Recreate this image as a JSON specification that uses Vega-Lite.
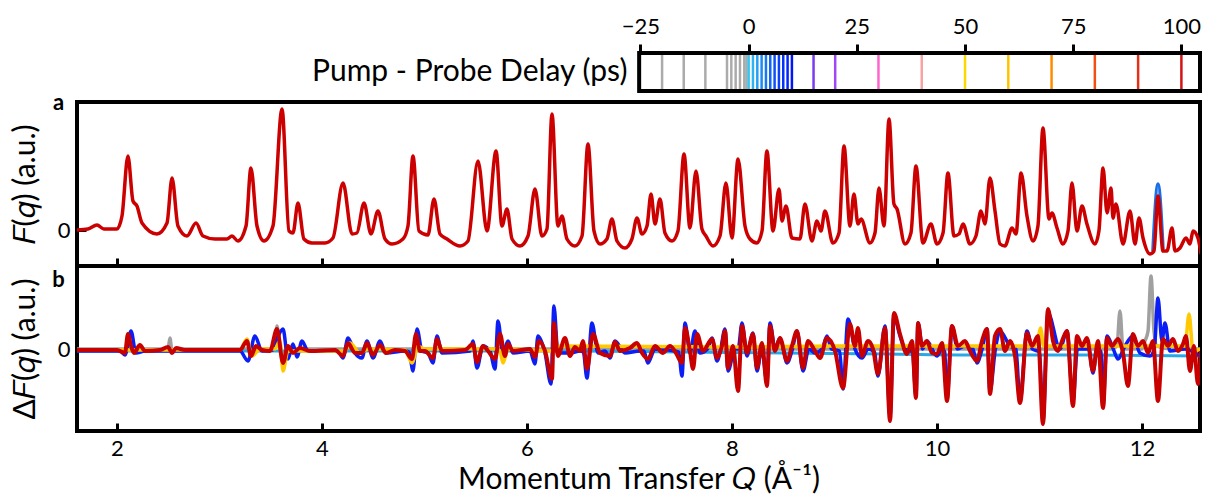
{
  "$schema": "https://vega.github.io/schema/vega-lite/v6.json",
  "padding": {"left": 8, "top": 15, "right": 0, "bottom": 0},
  "background": "white",
  "config": {
    "font": "Lato",
    "view": {"stroke": "black", "strokeWidth": 4},
    "axis": {"grid": false, "domain": false, "tickColor": "black", "tickWidth": 3, "labelColor": "black", "titleColor": "black", "labelFont": "Lato", "titleFont": "Lato", "titleFontWeight": "normal", "labelFontSize": 22, "titleFontSize": 30}
  },
  "datasets": {
    "delays": [{"delay":-20},{"delay":-15},{"delay":-10},{"delay":-5},{"delay":-4},{"delay":-3},{"delay":-2},{"delay":-1},{"delay":-0.5},{"delay":0},{"delay":1},{"delay":2},{"delay":3},{"delay":4},{"delay":5},{"delay":6},{"delay":7},{"delay":8},{"delay":9},{"delay":10},{"delay":15},{"delay":20},{"delay":30},{"delay":40},{"delay":50},{"delay":60},{"delay":70},{"delay":80},{"delay":90},{"delay":100}],
    "Fred": [{"Q":1.610,"F":0},{"Q":1.717,"F":1},{"Q":1.805,"F":5},{"Q":1.873,"F":1},{"Q":2.000,"F":1},{"Q":2.049,"F":14},{"Q":2.107,"F":74},{"Q":2.156,"F":29},{"Q":2.195,"F":24},{"Q":2.244,"F":7},{"Q":2.390,"F":-4},{"Q":2.488,"F":7},{"Q":2.537,"F":52},{"Q":2.595,"F":4},{"Q":2.683,"F":-6},{"Q":2.771,"F":7},{"Q":2.839,"F":-6},{"Q":2.956,"F":-9},{"Q":3.073,"F":-9},{"Q":3.122,"F":-6},{"Q":3.180,"F":-11},{"Q":3.259,"F":4},{"Q":3.307,"F":62},{"Q":3.366,"F":4},{"Q":3.434,"F":-11},{"Q":3.522,"F":4},{"Q":3.610,"F":121},{"Q":3.678,"F":-1},{"Q":3.717,"F":-3},{"Q":3.766,"F":27},{"Q":3.824,"F":-9},{"Q":3.902,"F":-13},{"Q":4.029,"F":-13},{"Q":4.107,"F":-8},{"Q":4.205,"F":47},{"Q":4.293,"F":-4},{"Q":4.341,"F":-3},{"Q":4.410,"F":27},{"Q":4.478,"F":-4},{"Q":4.546,"F":19},{"Q":4.615,"F":-9},{"Q":4.683,"F":-14},{"Q":4.790,"F":-9},{"Q":4.839,"F":4},{"Q":4.888,"F":74},{"Q":4.946,"F":-1},{"Q":5.034,"F":-5},{"Q":5.093,"F":31},{"Q":5.151,"F":-4},{"Q":5.220,"F":-9},{"Q":5.346,"F":-16},{"Q":5.424,"F":-11},{"Q":5.522,"F":69},{"Q":5.610,"F":-1},{"Q":5.698,"F":79},{"Q":5.756,"F":4},{"Q":5.805,"F":21},{"Q":5.854,"F":-9},{"Q":5.932,"F":-16},{"Q":6.010,"F":-6},{"Q":6.078,"F":41},{"Q":6.146,"F":-6},{"Q":6.195,"F":1},{"Q":6.244,"F":116},{"Q":6.302,"F":4},{"Q":6.341,"F":14},{"Q":6.390,"F":-9},{"Q":6.468,"F":-16},{"Q":6.537,"F":-6},{"Q":6.595,"F":86},{"Q":6.654,"F":-1},{"Q":6.712,"F":-14},{"Q":6.780,"F":-9},{"Q":6.829,"F":11},{"Q":6.878,"F":-11},{"Q":6.956,"F":-18},{"Q":7.024,"F":-9},{"Q":7.073,"F":12},{"Q":7.122,"F":-4},{"Q":7.171,"F":4},{"Q":7.210,"F":36},{"Q":7.249,"F":6},{"Q":7.298,"F":31},{"Q":7.346,"F":-3},{"Q":7.415,"F":-11},{"Q":7.473,"F":-1},{"Q":7.532,"F":76},{"Q":7.590,"F":2},{"Q":7.649,"F":59},{"Q":7.707,"F":1},{"Q":7.746,"F":-6},{"Q":7.815,"F":-16},{"Q":7.883,"F":-6},{"Q":7.941,"F":47},{"Q":8.000,"F":-8},{"Q":8.059,"F":71},{"Q":8.127,"F":4},{"Q":8.176,"F":-9},{"Q":8.244,"F":-13},{"Q":8.293,"F":-1},{"Q":8.341,"F":79},{"Q":8.400,"F":-1},{"Q":8.459,"F":41},{"Q":8.488,"F":9},{"Q":8.527,"F":24},{"Q":8.585,"F":-8},{"Q":8.663,"F":-9},{"Q":8.712,"F":26},{"Q":8.780,"F":-11},{"Q":8.829,"F":9},{"Q":8.868,"F":-1},{"Q":8.907,"F":19},{"Q":8.985,"F":-13},{"Q":9.044,"F":-3},{"Q":9.093,"F":84},{"Q":9.151,"F":4},{"Q":9.190,"F":36},{"Q":9.229,"F":6},{"Q":9.259,"F":11},{"Q":9.346,"F":-13},{"Q":9.395,"F":-3},{"Q":9.434,"F":42},{"Q":9.483,"F":4},{"Q":9.532,"F":111},{"Q":9.580,"F":26},{"Q":9.610,"F":21},{"Q":9.688,"F":-14},{"Q":9.746,"F":-3},{"Q":9.795,"F":64},{"Q":9.863,"F":-13},{"Q":9.941,"F":6},{"Q":10.000,"F":-14},{"Q":10.059,"F":-3},{"Q":10.107,"F":57},{"Q":10.166,"F":-6},{"Q":10.215,"F":-4},{"Q":10.254,"F":6},{"Q":10.322,"F":-14},{"Q":10.380,"F":-6},{"Q":10.429,"F":19},{"Q":10.468,"F":6},{"Q":10.517,"F":52},{"Q":10.566,"F":19},{"Q":10.615,"F":-14},{"Q":10.663,"F":-16},{"Q":10.732,"F":2},{"Q":10.771,"F":-4},{"Q":10.820,"F":57},{"Q":10.878,"F":14},{"Q":10.937,"F":-11},{"Q":10.985,"F":4},{"Q":11.034,"F":102},{"Q":11.093,"F":11},{"Q":11.122,"F":17},{"Q":11.171,"F":2},{"Q":11.229,"F":-14},{"Q":11.278,"F":-1},{"Q":11.317,"F":47},{"Q":11.366,"F":-1},{"Q":11.415,"F":24},{"Q":11.463,"F":6},{"Q":11.541,"F":-14},{"Q":11.580,"F":-1},{"Q":11.620,"F":62},{"Q":11.659,"F":17},{"Q":11.698,"F":42},{"Q":11.717,"F":12},{"Q":11.746,"F":26},{"Q":11.815,"F":-14},{"Q":11.883,"F":19},{"Q":11.932,"F":-14},{"Q":11.971,"F":12},{"Q":12.010,"F":-8},{"Q":12.078,"F":-24},{"Q":12.117,"F":-21},{"Q":12.156,"F":34},{"Q":12.205,"F":-21},{"Q":12.244,"F":-21},{"Q":12.293,"F":2},{"Q":12.322,"F":-21},{"Q":12.371,"F":-18},{"Q":12.429,"F":-8},{"Q":12.468,"F":-14},{"Q":12.498,"F":-1},{"Q":12.546,"F":-8},{"Q":12.576,"F":-24}],
    "Fblue": [{"Q":12.107,"F":-21},{"Q":12.156,"F":46},{"Q":12.205,"F":-19}],
    "dRed": [{"Q":1.61,"d":-1},{"Q":2.0,"d":-1},{"Q":2.029,"d":-2},{"Q":2.078,"d":-4},{"Q":2.107,"d":15},{"Q":2.137,"d":3},{"Q":2.166,"d":-4},{"Q":2.224,"d":4},{"Q":2.273,"d":-2},{"Q":2.42,"d":-1},{"Q":2.498,"d":2},{"Q":2.537,"d":-4},{"Q":2.576,"d":1},{"Q":2.663,"d":-1},{"Q":3.2,"d":-1},{"Q":3.268,"d":8},{"Q":3.307,"d":-7},{"Q":3.356,"d":3},{"Q":3.415,"d":-1},{"Q":3.493,"d":-2},{"Q":3.561,"d":20},{"Q":3.62,"d":-14},{"Q":3.668,"d":3},{"Q":3.717,"d":-4},{"Q":3.785,"d":1},{"Q":3.883,"d":-2},{"Q":4.127,"d":-1},{"Q":4.205,"d":-7},{"Q":4.254,"d":6},{"Q":4.322,"d":-4},{"Q":4.39,"d":-4},{"Q":4.439,"d":6},{"Q":4.498,"d":-6},{"Q":4.566,"d":4},{"Q":4.624,"d":-4},{"Q":4.712,"d":-1},{"Q":4.81,"d":-2},{"Q":4.878,"d":-10},{"Q":4.917,"d":15},{"Q":4.956,"d":-2},{"Q":5.005,"d":-2},{"Q":5.083,"d":-9},{"Q":5.122,"d":10},{"Q":5.171,"d":-2},{"Q":5.395,"d":-1},{"Q":5.473,"d":5},{"Q":5.512,"d":-13},{"Q":5.571,"d":3},{"Q":5.62,"d":-2},{"Q":5.688,"d":-10},{"Q":5.737,"d":15},{"Q":5.785,"d":-7},{"Q":5.815,"d":5},{"Q":5.863,"d":-2},{"Q":6.029,"d":0},{"Q":6.078,"d":-8},{"Q":6.117,"d":8},{"Q":6.176,"d":-2},{"Q":6.244,"d":-30},{"Q":6.263,"d":26},{"Q":6.302,"d":-7},{"Q":6.371,"d":11},{"Q":6.42,"d":-7},{"Q":6.468,"d":2},{"Q":6.517,"d":-2},{"Q":6.546,"d":8},{"Q":6.585,"d":-20},{"Q":6.644,"d":15},{"Q":6.712,"d":-4},{"Q":6.81,"d":-7},{"Q":6.859,"d":7},{"Q":6.907,"d":-2},{"Q":7.005,"d":1},{"Q":7.073,"d":6},{"Q":7.122,"d":-4},{"Q":7.18,"d":-10},{"Q":7.249,"d":3},{"Q":7.327,"d":-4},{"Q":7.395,"d":3},{"Q":7.454,"d":-4},{"Q":7.512,"d":-14},{"Q":7.542,"d":21},{"Q":7.59,"d":-2},{"Q":7.62,"d":-20},{"Q":7.659,"d":15},{"Q":7.717,"d":-2},{"Q":7.805,"d":10},{"Q":7.854,"d":-9},{"Q":7.902,"d":3},{"Q":7.932,"d":18},{"Q":7.961,"d":-19},{"Q":8.01,"d":3},{"Q":8.059,"d":-42},{"Q":8.098,"d":23},{"Q":8.146,"d":-4},{"Q":8.205,"d":15},{"Q":8.244,"d":-19},{"Q":8.293,"d":6},{"Q":8.341,"d":-37},{"Q":8.371,"d":23},{"Q":8.42,"d":-2},{"Q":8.468,"d":11},{"Q":8.537,"d":-12},{"Q":8.585,"d":3},{"Q":8.634,"d":18},{"Q":8.693,"d":-19},{"Q":8.742,"d":8},{"Q":8.81,"d":-2},{"Q":8.859,"d":-9},{"Q":8.927,"d":11},{"Q":9.005,"d":-2},{"Q":9.083,"d":-39},{"Q":9.151,"d":25},{"Q":9.2,"d":3},{"Q":9.229,"d":21},{"Q":9.268,"d":-7},{"Q":9.327,"d":8},{"Q":9.376,"d":0},{"Q":9.424,"d":-25},{"Q":9.493,"d":21},{"Q":9.542,"d":-72},{"Q":9.58,"d":36},{"Q":9.639,"d":15},{"Q":9.707,"d":-5},{"Q":9.756,"d":8},{"Q":9.795,"d":-49},{"Q":9.815,"d":26},{"Q":9.854,"d":3},{"Q":9.902,"d":8},{"Q":9.951,"d":-4},{"Q":10.0,"d":-5},{"Q":10.049,"d":6},{"Q":10.098,"d":-52},{"Q":10.146,"d":23},{"Q":10.205,"d":3},{"Q":10.273,"d":8},{"Q":10.322,"d":-2},{"Q":10.39,"d":-12},{"Q":10.439,"d":8},{"Q":10.488,"d":20},{"Q":10.517,"d":-45},{"Q":10.566,"d":13},{"Q":10.615,"d":20},{"Q":10.663,"d":-2},{"Q":10.712,"d":8},{"Q":10.761,"d":-7},{"Q":10.81,"d":-54},{"Q":10.878,"d":16},{"Q":10.927,"d":3},{"Q":10.985,"d":13},{"Q":11.034,"d":-75},{"Q":11.083,"d":40},{"Q":11.132,"d":8},{"Q":11.18,"d":-2},{"Q":11.22,"d":8},{"Q":11.268,"d":18},{"Q":11.327,"d":-57},{"Q":11.366,"d":13},{"Q":11.415,"d":3},{"Q":11.463,"d":11},{"Q":11.522,"d":-22},{"Q":11.571,"d":8},{"Q":11.62,"d":-59},{"Q":11.659,"d":11},{"Q":11.707,"d":3},{"Q":11.766,"d":10},{"Q":11.815,"d":-4},{"Q":11.863,"d":-37},{"Q":11.912,"d":15},{"Q":11.961,"d":3},{"Q":12.01,"d":8},{"Q":12.059,"d":-4},{"Q":12.107,"d":8},{"Q":12.156,"d":-52},{"Q":12.205,"d":10},{"Q":12.254,"d":3},{"Q":12.302,"d":10},{"Q":12.351,"d":-2},{"Q":12.4,"d":5},{"Q":12.429,"d":13},{"Q":12.468,"d":-22},{"Q":12.507,"d":3},{"Q":12.546,"d":-35},{"Q":12.576,"d":-2}],
    "dBlue": [{"Q":1.61,"d":-2},{"Q":2.029,"d":-2},{"Q":2.078,"d":-6},{"Q":2.137,"d":18},{"Q":2.185,"d":-4},{"Q":2.273,"d":-2},{"Q":3.2,"d":-2},{"Q":3.278,"d":-12},{"Q":3.346,"d":13},{"Q":3.415,"d":-2},{"Q":3.52,"d":-1},{"Q":3.561,"d":10},{"Q":3.62,"d":20},{"Q":3.668,"d":-10},{"Q":3.717,"d":5},{"Q":3.756,"d":-8},{"Q":3.805,"d":8},{"Q":3.863,"d":-2},{"Q":4.156,"d":-2},{"Q":4.205,"d":-9},{"Q":4.254,"d":11},{"Q":4.322,"d":-4},{"Q":4.39,"d":-9},{"Q":4.439,"d":8},{"Q":4.498,"d":-9},{"Q":4.566,"d":8},{"Q":4.624,"d":-4},{"Q":4.81,"d":-2},{"Q":4.85,"d":-3},{"Q":4.888,"d":-22},{"Q":4.927,"d":20},{"Q":4.976,"d":-2},{"Q":5.034,"d":-4},{"Q":5.083,"d":-14},{"Q":5.122,"d":13},{"Q":5.171,"d":-4},{"Q":5.444,"d":-2},{"Q":5.473,"d":8},{"Q":5.512,"d":-19},{"Q":5.571,"d":3},{"Q":5.639,"d":-2},{"Q":5.688,"d":-20},{"Q":5.717,"d":28},{"Q":5.766,"d":-4},{"Q":5.815,"d":8},{"Q":5.863,"d":-4},{"Q":6.029,"d":-2},{"Q":6.078,"d":-15},{"Q":6.107,"d":13},{"Q":6.176,"d":-4},{"Q":6.234,"d":-35},{"Q":6.263,"d":43},{"Q":6.302,"d":-4},{"Q":6.42,"d":-4},{"Q":6.517,"d":-2},{"Q":6.55,"d":-3},{"Q":6.585,"d":-29},{"Q":6.634,"d":26},{"Q":6.693,"d":-4},{"Q":6.76,"d":-2},{"Q":6.81,"d":-9},{"Q":6.859,"d":8},{"Q":6.956,"d":-4},{"Q":7.102,"d":-2},{"Q":7.14,"d":-2},{"Q":7.18,"d":-14},{"Q":7.249,"d":0},{"Q":7.444,"d":-2},{"Q":7.48,"d":-3},{"Q":7.512,"d":-27},{"Q":7.542,"d":26},{"Q":7.59,"d":-4},{"Q":7.639,"d":18},{"Q":7.688,"d":-4},{"Q":7.76,"d":0},{"Q":7.805,"d":11},{"Q":7.854,"d":-12},{"Q":7.89,"d":0},{"Q":7.932,"d":20},{"Q":7.961,"d":-22},{"Q":8.029,"d":0},{"Q":8.06,"d":0},{"Q":8.098,"d":26},{"Q":8.146,"d":-7},{"Q":8.205,"d":16},{"Q":8.244,"d":-22},{"Q":8.29,"d":0},{"Q":8.341,"d":-32},{"Q":8.371,"d":26},{"Q":8.42,"d":0},{"Q":8.468,"d":11},{"Q":8.5,"d":0},{"Q":8.537,"d":-14},{"Q":8.59,"d":0},{"Q":8.634,"d":18},{"Q":8.693,"d":-22},{"Q":8.75,"d":0},{"Q":8.81,"d":-4},{"Q":8.88,"d":0},{"Q":8.927,"d":13},{"Q":8.97,"d":0},{"Q":9.05,"d":-2},{"Q":9.083,"d":-40},{"Q":9.132,"d":30},{"Q":9.2,"d":0},{"Q":9.268,"d":-9},{"Q":9.33,"d":0},{"Q":9.39,"d":-3},{"Q":9.424,"d":-27},{"Q":9.493,"d":23},{"Q":9.542,"d":-67},{"Q":9.58,"d":33},{"Q":9.639,"d":13},{"Q":9.69,"d":0},{"Q":9.76,"d":-3},{"Q":9.795,"d":-47},{"Q":9.815,"d":26},{"Q":9.86,"d":0},{"Q":9.902,"d":8},{"Q":10.0,"d":-7},{"Q":10.05,"d":0},{"Q":10.075,"d":-3},{"Q":10.098,"d":-50},{"Q":10.146,"d":23},{"Q":10.2,"d":0},{"Q":10.273,"d":3},{"Q":10.35,"d":0},{"Q":10.39,"d":-14},{"Q":10.44,"d":0},{"Q":10.488,"d":20},{"Q":10.517,"d":-42},{"Q":10.57,"d":0},{"Q":10.615,"d":18},{"Q":10.712,"d":3},{"Q":10.77,"d":0},{"Q":10.81,"d":-52},{"Q":10.878,"d":18},{"Q":10.93,"d":0},{"Q":11.0,"d":-3},{"Q":11.034,"d":-72},{"Q":11.083,"d":36},{"Q":11.2,"d":0},{"Q":11.268,"d":18},{"Q":11.327,"d":-52},{"Q":11.37,"d":0},{"Q":11.48,"d":0},{"Q":11.522,"d":-24},{"Q":11.56,"d":0},{"Q":11.6,"d":-3},{"Q":11.62,"d":-57},{"Q":11.659,"d":13},{"Q":11.72,"d":0},{"Q":11.766,"d":-10},{"Q":11.834,"d":3},{"Q":11.912,"d":13},{"Q":11.98,"d":-4},{"Q":12.078,"d":-7},{"Q":12.12,"d":0},{"Q":12.156,"d":51},{"Q":12.195,"d":8},{"Q":12.224,"d":26},{"Q":12.273,"d":-2},{"Q":12.42,"d":0},{"Q":12.566,"d":-7}],
    "dCyan": [{"Q":1.61,"d":-2},{"Q":6.5,"d":-2},{"Q":7.5,"d":-3},{"Q":8.5,"d":-4},{"Q":9.5,"d":-5},{"Q":10.5,"d":-6},{"Q":11.5,"d":-6},{"Q":12.566,"d":-7}],
    "dYellow": [{"Q":1.61,"d":-1},{"Q":3.2,"d":-1},{"Q":3.268,"d":10},{"Q":3.317,"d":-7},{"Q":3.4,"d":0},{"Q":3.54,"d":0},{"Q":3.59,"d":8},{"Q":3.62,"d":-22},{"Q":3.668,"d":-2},{"Q":4.224,"d":-2},{"Q":4.273,"d":6},{"Q":4.371,"d":-4},{"Q":4.45,"d":0},{"Q":4.81,"d":-1},{"Q":4.878,"d":-14},{"Q":4.937,"d":3},{"Q":5.0,"d":0},{"Q":5.7,"d":0},{"Q":5.737,"d":-2},{"Q":5.766,"d":-14},{"Q":5.815,"d":0},{"Q":6.244,"d":-2},{"Q":6.322,"d":3},{"Q":8.0,"d":2},{"Q":9.0,"d":3},{"Q":10.0,"d":3},{"Q":10.95,"d":3},{"Q":10.985,"d":10},{"Q":11.01,"d":21},{"Q":11.04,"d":3},{"Q":12.42,"d":3},{"Q":12.459,"d":35},{"Q":12.498,"d":-2},{"Q":12.576,"d":0}],
    "dGray": [{"Q":1.61,"d":0},{"Q":2.498,"d":0},{"Q":2.517,"d":11},{"Q":2.537,"d":-3},{"Q":2.576,"d":0},{"Q":3.54,"d":0},{"Q":3.561,"d":23},{"Q":3.6,"d":-5},{"Q":3.7,"d":0},{"Q":11.7,"d":0},{"Q":11.756,"d":3},{"Q":11.785,"d":38},{"Q":11.815,"d":0},{"Q":12.0,"d":0},{"Q":12.029,"d":8},{"Q":12.059,"d":18},{"Q":12.088,"d":73},{"Q":12.117,"d":18},{"Q":12.146,"d":3},{"Q":12.3,"d":0},{"Q":12.566,"d":0}]
  },
  "bounds": "flush",
  "spacing": 11,
  "vconcat": [
    {
      "width": 1123,
      "height": 38,
      "view": {"stroke": null},
      "layer": [
        {
          "data": {"name": "delays"},
          "mark": {"type": "rule", "strokeWidth": 2.5},
          "encoding": {
            "x": {"field": "delay", "type": "quantitative", "scale": {"domain": [-155.2, 104.3], "nice": false, "zero": false},
                  "axis": {"orient": "top", "values": [-25, 0, 25, 50, 75, 100], "tickSize": 9, "labelPadding": 6, "title": null, "labelFontSize": 22}},
            "color": {"field": "delay", "type": "ordinal", "legend": null,
              "scale": {"domain": [-20,-15,-10,-5,-4,-3,-2,-1,-0.5,0,1,2,3,4,5,6,7,8,9,10,15,20,30,40,50,60,70,80,90,100],
                        "range": ["#ababab","#ababab","#ababab","#ababab","#ababab","#ababab","#ababab","#ababab","#ababab","#36c5f0","#2db3f2","#259ff3","#1d8bf4","#1677f5","#1064f6","#0c52f7","#0841f8","#0532f8","#0324f9","#0016fa","#7a3cf0","#a347f5","#ff66cc","#f5a3a3","#ffd700","#ffc400","#ff8c00","#f05014","#e3301a","#d41414"]}}
          }
        },
        {
          "data": {"values": [{"start": -25.3, "end": 104.3}]},
          "mark": {"type": "rect", "fillOpacity": 0, "stroke": "black", "strokeWidth": 4},
          "encoding": {"x": {"field": "start", "type": "quantitative"}, "x2": {"field": "end"}}
        },
        {
          "data": {"values": [{"label": "Pump - Probe Delay (ps)", "pos": -28}]},
          "mark": {"type": "text", "align": "right", "baseline": "middle", "fontSize": 30, "color": "black"},
          "encoding": {"x": {"field": "pos", "type": "quantitative"}, "text": {"field": "label"}}
        }
      ]
    },
    {
      "bounds": "flush",
      "spacing": 0,
      "vconcat": [
        {
          "width": 1123,
          "height": 164,
          "layer": [
            {
              "data": {"name": "Fblue"},
              "mark": {"type": "line", "color": "#1a6fe8", "strokeWidth": 3.5, "interpolate": "monotone", "clip": true},
              "encoding": {
                "x": {"field": "Q", "type": "quantitative", "scale": {"domain": [1.61, 12.566], "nice": false, "zero": false},
                      "axis": {"values": [2, 4, 6, 8, 10, 12], "tickSize": -8, "labels": false, "title": null}},
                "y": {"field": "F", "type": "quantitative", "scale": {"domain": [-36, 128], "nice": false, "zero": false},
                      "axis": {"values": [0], "tickSize": -9, "labelPadding": 16, "title": "𝐹(𝑞) (a.u.)", "titlePadding": 17}}
              }
            },
            {
              "data": {"name": "Fred"},
              "mark": {"type": "line", "color": "#cc0000", "strokeWidth": 3.5, "interpolate": "monotone", "clip": true},
              "encoding": {"x": {"field": "Q", "type": "quantitative"}, "y": {"field": "F", "type": "quantitative"}}
            },
            {
              "data": {"values": [{"Q": 1.43, "F": 127, "t": "a"}]},
              "mark": {"type": "text", "fontSize": 22, "fontWeight": "bold", "baseline": "middle", "align": "center", "color": "black"},
              "encoding": {"x": {"field": "Q", "type": "quantitative"}, "y": {"field": "F", "type": "quantitative"}, "text": {"field": "t"}}
            }
          ]
        },
        {
          "width": 1123,
          "height": 165,
          "layer": [
            {
              "data": {"name": "dGray"},
              "mark": {"type": "line", "color": "#a0a0a0", "strokeWidth": 3.5, "interpolate": "monotone", "clip": true},
              "encoding": {
                "x": {"field": "Q", "type": "quantitative", "scale": {"domain": [1.61, 12.566], "nice": false, "zero": false},
                      "axis": {"values": [2, 4, 6, 8, 10, 12], "format": "d", "tickSize": -8, "labelPadding": 15, "title": "Momentum Transfer 𝑄 (Å⁻¹)", "titleFontSize": 30, "titlePadding": 5}},
                "y": {"field": "d", "type": "quantitative", "scale": {"domain": [-82, 83], "nice": false, "zero": false},
                      "axis": {"values": [0], "tickSize": -9, "labelPadding": 16, "title": "Δ𝐹(𝑞) (a.u.)", "titlePadding": 17}}
              }
            },
            {
              "data": {"name": "dCyan"},
              "mark": {"type": "line", "color": "#29a8e8", "strokeWidth": 3, "interpolate": "monotone", "clip": true},
              "encoding": {"x": {"field": "Q", "type": "quantitative"}, "y": {"field": "d", "type": "quantitative"}}
            },
            {
              "data": {"name": "dBlue"},
              "mark": {"type": "line", "color": "#0a1ef5", "strokeWidth": 3.5, "interpolate": "monotone", "clip": true},
              "encoding": {"x": {"field": "Q", "type": "quantitative"}, "y": {"field": "d", "type": "quantitative"}}
            },
            {
              "data": {"name": "dYellow"},
              "mark": {"type": "line", "color": "#ffc800", "strokeWidth": 3.5, "interpolate": "monotone", "clip": true},
              "encoding": {"x": {"field": "Q", "type": "quantitative"}, "y": {"field": "d", "type": "quantitative"}}
            },
            {
              "data": {"name": "dRed"},
              "mark": {"type": "line", "color": "#c80000", "strokeWidth": 4, "interpolate": "monotone", "clip": true},
              "encoding": {"x": {"field": "Q", "type": "quantitative"}, "y": {"field": "d", "type": "quantitative"}}
            },
            {
              "data": {"values": [{"Q": 1.43, "d": 69, "t": "b"}]},
              "mark": {"type": "text", "fontSize": 22, "fontWeight": "bold", "baseline": "middle", "align": "center", "color": "black"},
              "encoding": {"x": {"field": "Q", "type": "quantitative"}, "y": {"field": "d", "type": "quantitative"}, "text": {"field": "t"}}
            }
          ]
        }
      ]
    }
  ]
}
